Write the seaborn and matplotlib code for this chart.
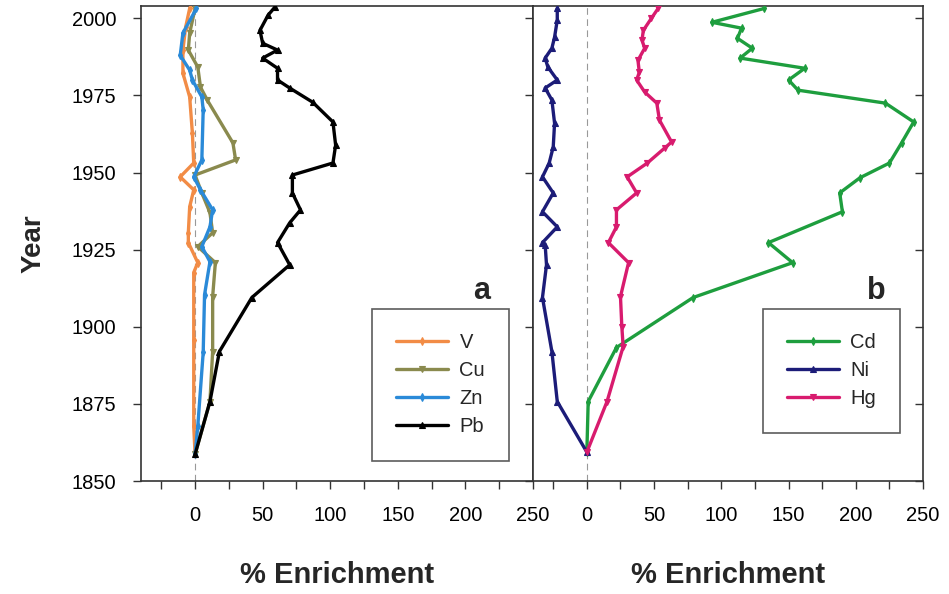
import numpy as np
import pandas as pd
import matplotlib
matplotlib.use("Agg")
import matplotlib.pyplot as plt
from matplotlib.ticker import MultipleLocator
import seaborn as sns

sns.set_theme(style="white")
plt.rcParams["font.family"] = ["Liberation Sans", "DejaVu Sans"]

# ---------------------------------------------------------------------------
# data (% enrichment vs year)
# ---------------------------------------------------------------------------
v_year = [2003.2, 1997.1, 1989.7, 1982.2, 1974.5, 1962.8, 1953.1, 1948.6, 1944.4,
          1938.9, 1930.5, 1927.3, 1920.8, 1917.6, 1895.9, 1867.8, 1858.7]
v_pct = [-4, -7, -9, -9, -4, -2, -1, -11, -1, -4, -5, -5, 2, -1, -1, -1, 0]

cu_year = [2003.2, 1995.2, 1989.7, 1984.2, 1977.7, 1973.5, 1959.6, 1954.1, 1949.2,
           1943.4, 1937.0, 1930.5, 1926.0, 1920.8, 1909.8, 1892.0, 1875.8, 1858.7]
cu_pct = [0, -4, -5, 2, 4, 9, 28, 30, 0, 5, 11, 13, 2, 15, 13, 13, 11, 0]

zn_year = [2003.2, 1995.2, 1988.0, 1983.2, 1980.0, 1974.5, 1970.3, 1954.1, 1948.6,
           1944.4, 1937.9, 1932.4, 1926.0, 1921.1, 1910.4, 1891.7, 1867.8, 1858.7]
zn_pct = [1, -9, -11, -4, -2, 5, 6, 5, -1, 4, 13, 11, 5, 11, 7, 6, 2, 0]

pb_year = [2003.6, 2001.0, 1996.1, 1991.9, 1989.7, 1987.1, 1983.8, 1980.0, 1977.4,
           1972.8, 1966.4, 1958.9, 1953.1, 1949.2, 1943.4, 1937.9, 1933.7, 1927.3,
           1920.1, 1909.5, 1892.0, 1875.8, 1858.7]
pb_pct = [59, 54, 48, 50, 61, 50, 61, 61, 70, 87, 102, 104, 102, 72, 72, 78, 70, 61,
          70, 42, 18, 11, 0]

cd_year = [2003.2, 1998.7, 1996.8, 1993.5, 1990.3, 1987.1, 1983.8, 1980.0, 1976.7,
           1972.5, 1966.4, 1959.6, 1953.1, 1948.3, 1943.4, 1937.3, 1927.3, 1920.8,
           1909.5, 1893.3, 1875.8, 1859.4]
cd_pct = [132, 93, 115, 112, 123, 114, 162, 150, 157, 222, 243, 234, 225, 203, 188,
          190, 135, 153, 79, 22, 1, 0]

ni_year = [2003.2, 1999.4, 1993.9, 1990.3, 1987.1, 1984.2, 1980.0, 1977.4, 1973.5,
           1966.0, 1958.3, 1953.1, 1948.6, 1943.4, 1937.3, 1932.4, 1927.3, 1926.6,
           1920.1, 1909.5, 1892.0, 1875.8, 1859.4]
ni_pct = [-22, -22, -24, -26, -31, -29, -22, -31, -26, -24, -25, -28, -33, -25, -33,
          -22, -33, -31, -30, -33, -26, -22, 0]

hg_year = [2003.2, 2000.0, 1996.1, 1992.9, 1990.3, 1986.4, 1982.5, 1980.0, 1976.1,
           1972.5, 1967.0, 1959.9, 1958.0, 1953.1, 1948.6, 1943.4, 1937.9, 1932.4,
           1927.3, 1920.8, 1909.8, 1900.1, 1893.6, 1875.8, 1859.4]
hg_pct = [53, 48, 42, 41, 43, 38, 39, 37, 43, 52, 54, 63, 58, 45, 30, 37, 22, 22, 16,
          31, 25, 26, 27, 15, 0]

metals_a = ["V", "Cu", "Zn", "Pb"]
metals_b = ["Cd", "Ni", "Hg"]
colors = {"V": "#F28C46", "Cu": "#8A8A4E", "Zn": "#2A8AD8", "Pb": "#000000",
          "Cd": "#1E9E3E", "Ni": "#1C1C78", "Hg": "#D81B6E"}
markers = {"V": "d", "Cu": "v", "Zn": "d", "Pb": "^",
           "Cd": "d", "Ni": "^", "Hg": "v"}


def long_df(names, years, pcts):
    parts = [pd.DataFrame({"metal": n, "year": y, "pct": p})
             for n, y, p in zip(names, years, pcts)]
    return pd.concat(parts, ignore_index=True)


df_a = long_df(metals_a, [v_year, cu_year, zn_year, pb_year],
               [v_pct, cu_pct, zn_pct, pb_pct])
df_b = long_df(metals_b, [cd_year, ni_year, hg_year], [cd_pct, ni_pct, hg_pct])

fig = plt.figure(figsize=(9.49, 5.94), dpi=100)
ax1 = fig.add_axes([0.1486, 0.190, 0.413, 0.800])
ax2 = fig.add_axes([0.5617, 0.190, 0.411, 0.800])

for ax, d, names, lab, lx in [(ax1, df_a, metals_a, "a", 0.87),
                              (ax2, df_b, metals_b, "b", 0.88)]:
    ax.axvline(0, color="#999999", lw=0.8, ls=(0, (6, 4)), zorder=1)
    sns.lineplot(data=d, x="pct", y="year", hue="metal", style="metal",
                 hue_order=names, style_order=names,
                 palette=colors, markers=markers, dashes=False, sort=False,
                 estimator=None, lw=2.4, markersize=4, markeredgewidth=0.8,
                 ax=ax, zorder=3)
    for ln in ax.lines[1:]:
        ln.set_markeredgecolor(ln.get_color())
    ax.set_xlim(-40, 250)
    ax.set_ylim(1850, 2004)
    ax.xaxis.set_major_locator(MultipleLocator(50))
    ax.xaxis.set_minor_locator(MultipleLocator(25))
    ax.yaxis.set_major_locator(MultipleLocator(25))
    ax.set_xticks([0, 50, 100, 150, 200, 250])
    ax.tick_params(axis="x", which="both", bottom=True, direction="out",
                   length=6, width=1, colors="#333333", labelcolor="black",
                   labelsize=14.5, pad=12)
    ax.tick_params(axis="y", left=True, direction="out", length=6, width=1,
                   colors="#333333", labelcolor="black", labelsize=14.5, pad=12)
    for s in ax.spines.values():
        s.set_color("#333333")
        s.set_linewidth(1.2)
    ax.set_xlabel("% Enrichment", fontsize=21, fontweight="bold", labelpad=26)
    ax.set_ylabel("")
    ax.text(lx, 0.40, lab, transform=ax.transAxes, fontsize=22,
            fontweight="bold", ha="center", va="center")
    leg = ax.legend(loc="upper left", bbox_to_anchor=(0.589, 0.362),
                    fontsize=14.5, frameon=True, fancybox=False,
                    handlelength=2.6, borderpad=1.2, labelspacing=0.45,
                    handletextpad=0.55, borderaxespad=0)
    leg.get_frame().set_edgecolor("#333333")
    leg.get_frame().set_linewidth(1.2)
    for h in leg.legend_handles:
        h.set_markeredgecolor(h.get_color())

ax1.set_ylabel("Year", fontsize=20, fontweight="bold", labelpad=18)
ax2.tick_params(axis="y", labelleft=False)
sec = ax2.secondary_yaxis("right")
sec.yaxis.set_major_locator(MultipleLocator(25))
sec.tick_params(direction="in", length=6, width=1, colors="#333333",
                labelright=False)
sec.spines["right"].set_visible(False)

fig.savefig("out.png", dpi=100, facecolor="white")
